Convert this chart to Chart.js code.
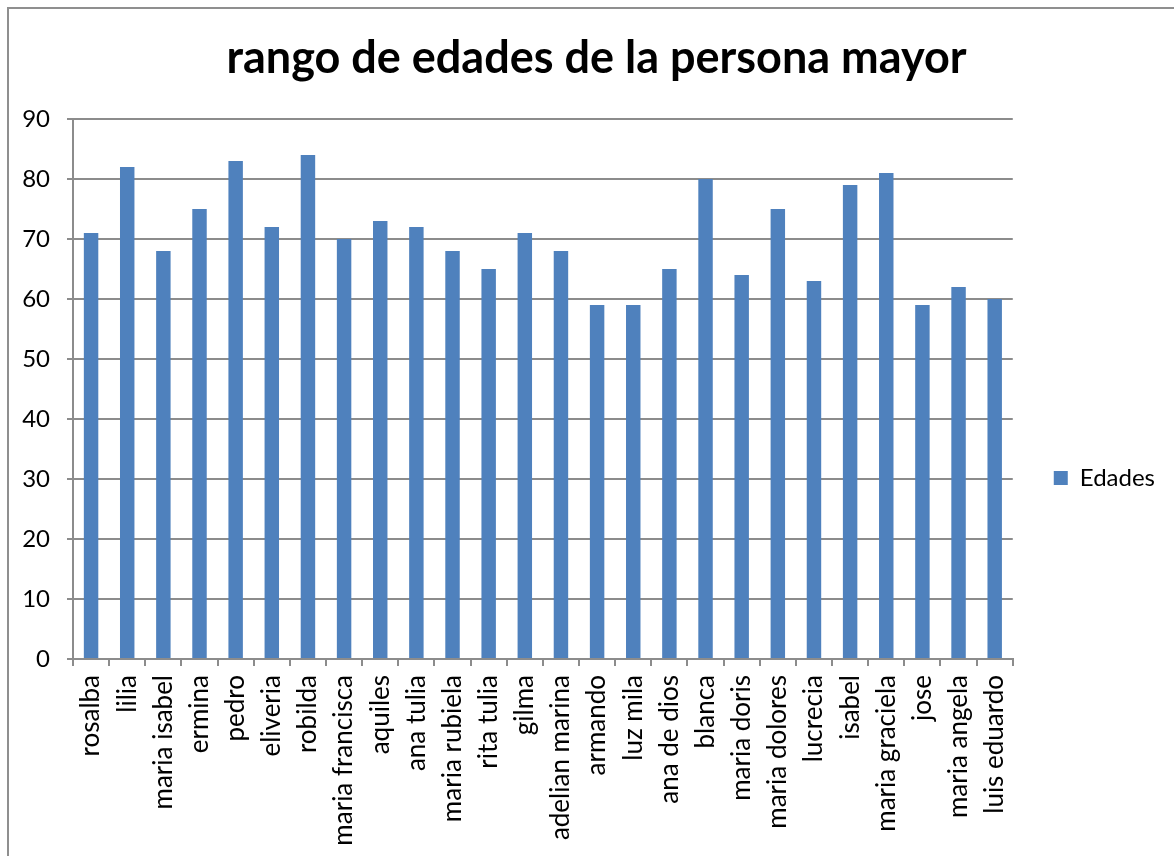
<!DOCTYPE html>
<html><head><meta charset="utf-8">
<script src="https://cdn.jsdelivr.net/npm/chart.js@4/dist/chart.umd.min.js"></script>
<style>
html,body{margin:0;padding:0;background:#fff;overflow:hidden}
#wrap{position:relative;width:1174px;height:856px}
#frame{position:absolute;left:7px;top:7px;width:1200px;height:900px;border:2px solid #8f8f8f;box-sizing:border-box;pointer-events:none}
</style></head><body>
<div id="wrap"><canvas id="c" width="1174" height="856"></canvas><div id="frame"></div></div>
<script>
const categories = ["rosalba","lilia","maria isabel","ermina","pedro","eliveria","robilda","maria francisca","aquiles","ana tulia","maria rubiela","rita tulia","gilma","adelian marina","armando","luz mila","ana de dios","blanca","maria doris","maria dolores","lucrecia","isabel","maria graciela","jose","maria angela","luis eduardo"];
const edades = [71,82,68,75,83,72,84,70,73,72,68,65,71,68,59,59,65,80,64,75,63,79,81,59,62,60];
const seriesName = "Edades";
const chartTitle = "rango de edades de la persona mayor";
const yMin = 0, yMax = 90, yStep = 10;

const FONT = "Lato, 'Open Sans', sans-serif";

const titleShift = {
  id: 'titleShift',
  afterLayout(chart) {
    const t = chart.titleBlock;
    if (t) { t.left += 10; t.right += 10; }
  }
};

new Chart(document.getElementById('c'), {
  type: 'bar',
  data: {
    labels: categories,
    datasets: [{
      label: seriesName,
      data: edades,
      backgroundColor: '#4F81BD',
      borderColor: '#4F81BD',
      borderWidth: 0,
      barPercentage: 0.8,
      categoryPercentage: 0.5
    }]
  },
  plugins: [titleShift],
  options: {
    responsive: false,
    animation: false,
    layout: { padding: { left: 8, right: 9, top: 0, bottom: 0 } },
    plugins: {
      title: {
        display: true, text: chartTitle, color: '#000',
        font: { family: FONT, size: 45, weight: 'bold' },
        padding: { top: 31, bottom: 34 }
      },
      legend: {
        display: true, position: 'right',
        title: { display: true, text: '', font: { size: 10 }, padding: { top: 88, bottom: 0 } },
        labels: { color: '#000', boxWidth: 14, boxHeight: 14, font: { family: FONT, size: 24 }, padding: 41 }
      },
      tooltip: { enabled: false }
    },
    scales: {
      x: {
        grid: { display: true, drawOnChartArea: false, drawTicks: true, tickLength: 7, color: '#8c8c8c', lineWidth: 2, offset: true },
        border: { display: true, color: '#8c8c8c', width: 2 },
        ticks: { color: '#000', font: { family: FONT, size: 26 }, minRotation: 90, maxRotation: 90, autoSkip: false, padding: 9 },
        afterFit: s => { s.height = 197; }
      },
      y: {
        min: yMin, max: yMax,
        grid: { color: '#8c8c8c', lineWidth: 2, tickLength: 6 },
        border: { display: true, color: '#8c8c8c', width: 2 },
        ticks: { stepSize: yStep, color: '#000', font: { family: FONT, size: 24 }, padding: 17 },
        afterFit: s => { s.width = 65; }
      }
    }
  }
});
</script>
</body></html>
